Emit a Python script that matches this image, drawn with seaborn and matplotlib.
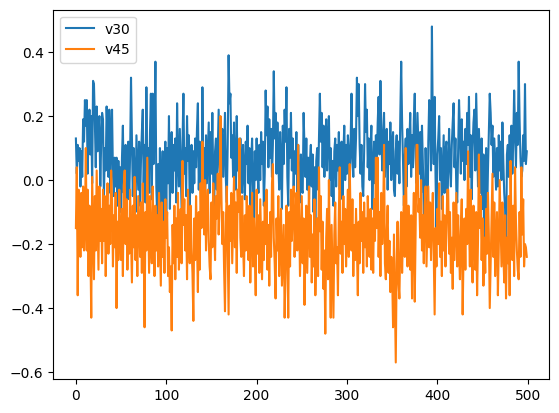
import matplotlib
matplotlib.use("Agg")
import matplotlib.pyplot as plt
import seaborn as sns
import pandas as pd

series_names = ["v30", "v45"]

v30 = [
    0.13, 0.02, 0.11, 0.06, 0.10, -0.02, 0.09, 0.01, 0.19, 0.12,
    0.25, 0.17, 0.25, 0.02, 0.14, 0.22, 0.08, 0.20, -0.01, 0.31,
    0.30, 0.18, 0.04, 0.23, 0.09, 0.16, 0.20, -0.02, 0.12, 0.21,
    0.19, -0.06, 0.10, 0.03, 0.23, 0.14, 0.01, 0.22, -0.04, 0.13,
    0.22, 0.02, -0.05, 0.07, -0.02, 0.07, -0.08, 0.06, -0.03, 0.04,
    -0.10, 0.07, 0.17, -0.04, 0.05, 0.11, -0.09, 0.04, 0.12, -0.06,
    0.08, 0.32, 0.13, -0.05, 0.10, 0.02, -0.10, 0.14, 0.05, -0.03,
    0.12, -0.08, 0.06, 0.15, 0.22, -0.02, 0.11, -0.07, 0.29, 0.03,
    0.10, -0.04, 0.15, 0.27, -0.06, 0.27, 0.05, 0.14, 0.37, -0.02,
    -0.12, 0.05, -0.17, 0.10, -0.20, -0.03, 0.09, -0.15, 0.04, 0.12,
    -0.10, 0.10, -0.01, 0.20, -0.09, 0.08, 0.15, -0.04, 0.11, 0.03,
    0.13, -0.07, 0.24, 0.06, -0.02, 0.16, 0.04, -0.09, 0.12, 0.27,
    0.02, 0.10, -0.05, 0.20, 0.06, 0.14, -0.08, 0.03, 0.11, -0.04,
    0.09, -0.01, 0.13, 0.04, 0.16, 0.24, -0.03, 0.12, 0.02, -0.11,
    0.29, 0.03, 0.10, -0.07, 0.14, -0.01, 0.08, 0.18, -0.04, 0.15,
    0.02, 0.21, 0.00, -0.09, 0.09, 0.13, -0.03, 0.10, 0.22, 0.04,
    -0.02, 0.12, 0.16, 0.01, 0.09, 0.21, 0.00, -0.07, 0.11, 0.39,
    0.24, 0.27, 0.07, 0.14, 0.01, 0.18, 0.05, -0.03, 0.20, 0.03,
    0.09, -0.08, 0.13, 0.02, -0.04, 0.11, 0.04, -0.06, 0.12, 0.05,
    0.17, -0.01, 0.10, -0.09, 0.06, 0.13, -0.02, -0.13, 0.09, 0.00,
    0.13, 0.03, -0.04, 0.11, 0.00, 0.15, 0.05, 0.12, -0.08, 0.02,
    0.28, 0.14, 0.23, 0.04, 0.19, 0.07, 0.16, 0.01, 0.11, 0.34,
    0.13, 0.21, 0.02, 0.18, 0.06, -0.03, 0.15, 0.07, -0.09, 0.17,
    0.05, 0.22, 0.12, 0.29, 0.01, -0.08, 0.16, 0.07, 0.21, 0.03,
    0.13, -0.02, 0.09, 0.02, 0.15, -0.05, 0.11, 0.00, -0.07, 0.08,
    -0.03, -0.04, 0.21, 0.10, 0.01, 0.13, -0.03, 0.07, -0.06, 0.06,
    0.11, -0.02, 0.08, -0.10, 0.04, -0.20, 0.06, 0.10, -0.03, 0.13,
    0.27, 0.12, 0.21, 0.04, 0.17, 0.01, 0.12, 0.19, 0.03, 0.14,
    0.20, 0.00, 0.10, -0.05, 0.06, -0.08, 0.09, 0.13, -0.02, 0.11,
    0.03, 0.15, -0.03, 0.09, 0.12, -0.06, 0.08, 0.17, 0.00, 0.11,
    0.02, 0.14, 0.09, -0.04, 0.12, 0.27, 0.07, 0.01, 0.16, 0.04,
    0.13, 0.32, 0.20, 0.30, 0.11, 0.02, 0.11, -0.02, -0.05, 0.09,
    0.30, 0.15, 0.22, 0.04, 0.13, 0.00, 0.10, 0.17, -0.09, 0.03,
    0.12, -0.01, 0.14, 0.05, 0.18, 0.26, 0.08, 0.31, 0.16, 0.03,
    0.13, 0.21, 0.01, 0.10, 0.16, -0.03, 0.12, 0.05, 0.18, 0.00,
    0.11, 0.15, -0.03, -0.05, 0.09, 0.14, 0.02, 0.12, -0.01, 0.20,
    0.37, 0.18, 0.06, -0.08, 0.07, 0.13, -0.02, 0.16, 0.05, 0.11,
    0.21, 0.01, 0.14, 0.04, 0.19, 0.27, 0.07, -0.01, 0.21, 0.12,
    0.02, 0.15, -0.04, 0.17, 0.05, -0.09, -0.19, 0.10, -0.02, -0.20,
    0.12, 0.25, 0.18, 0.03, 0.48, 0.15, 0.05, 0.26, 0.01, -0.16,
    0.08, 0.13, 0.20, 0.00, 0.10, -0.09, 0.03, 0.14, -0.04, 0.09,
    0.12, -0.07, 0.02, 0.16, 0.05, -0.02, 0.11, 0.18, 0.24, 0.04,
    0.13, -0.03, -0.07, 0.10, 0.25, 0.15, 0.02, 0.19, 0.06, 0.12,
    0.00, 0.16, 0.05, 0.21, 0.11, 0.26, 0.01, 0.14, -0.06, 0.10,
    0.18, 0.22, 0.03, 0.27, 0.12, -0.02, 0.16, 0.06, -0.04, 0.13,
    -0.09, 0.08, -0.28, 0.01, 0.10, -0.13, 0.03, 0.15, 0.27, 0.21,
    0.11, 0.17, 0.01, 0.13, 0.05, -0.03, 0.10, -0.02, 0.14, 0.03,
    0.12, 0.00, 0.18, 0.06, -0.04, -0.09, -0.28, 0.08, 0.11, 0.01,
    0.14, 0.05, 0.17, 0.02, 0.12, 0.28, 0.15, 0.04, 0.21, 0.11,
    0.37, 0.19, 0.07, 0.01, 0.03, 0.14, 0.06, 0.30, 0.05, 0.09,
]

v45 = [
    -0.15, 0.04, -0.36, -0.03, -0.12, -0.24, -0.04, -0.21, -0.02, -0.22,
    -0.14, 0.10, -0.22, -0.03, -0.30, -0.08, -0.20, -0.43, 0.01, -0.16,
    -0.31, -0.05, -0.22, 0.03, -0.13, -0.28, -0.02, -0.19, -0.09, -0.26,
    -0.03, -0.19, -0.05, -0.30, -0.12, -0.01, -0.23, -0.08, -0.20, 0.03,
    -0.06, -0.27, -0.11, -0.21, -0.04, -0.40, -0.13, -0.25, -0.03, -0.18,
    -0.25, -0.09, -0.30, -0.02, 0.03, -0.20, -0.06, -0.28, -0.12, -0.23,
    -0.03, -0.17, -0.32, -0.08, -0.21, 0.01, -0.25, -0.11, -0.30, -0.05,
    -0.14, -0.24, -0.07, -0.29, -0.01, -0.19, -0.46, -0.10, -0.22, 0.07,
    -0.12, -0.29, -0.05, -0.20, -0.26, -0.02, -0.17, -0.30, -0.08, -0.22,
    -0.11, -0.27, -0.04, -0.19, -0.33, -0.07, -0.24, -0.13, -0.29, -0.06,
    -0.18, -0.10, -0.30, -0.21, -0.35, -0.27, -0.47, -0.14, -0.26, -0.08,
    -0.31, -0.12, -0.24, -0.04, -0.28, -0.17, -0.09, -0.26, 0.06, -0.14,
    -0.06, -0.22, -0.11, -0.31, -0.03, -0.18, -0.26, -0.08, -0.21, -0.29,
    -0.44, -0.12, -0.25, -0.05, -0.19, -0.35, -0.10, -0.28, -0.01, -0.15,
    0.12, -0.06, -0.17, 0.00, -0.22, -0.09, -0.03, -0.19, -0.27, -0.31,
    -0.07, -0.21, -0.01, -0.14, -0.25, -0.05, -0.12, 0.02, -0.17, -0.06,
    0.20, -0.04, -0.20, -0.10, -0.28, -0.41, -0.13, -0.02, -0.23, -0.42,
    -0.08, -0.19, -0.04, -0.26, -0.12, 0.01, -0.21, -0.07, -0.29, -0.03,
    -0.10, 0.13, -0.18, -0.24, -0.05, -0.20, -0.30, -0.11, -0.22, -0.05,
    -0.13, -0.25, -0.08, -0.32, -0.16, -0.04, -0.27, -0.12, -0.21, -0.36,
    -0.03, -0.23, -0.11, -0.29, -0.06, -0.19, -0.31, -0.13, -0.25, -0.07,
    -0.20, -0.03, -0.28, -0.14, -0.33, -0.10, -0.24, -0.01, 0.05, -0.18,
    -0.26, -0.37, -0.12, -0.22, -0.05, -0.30, -0.17, -0.09, -0.33, -0.24,
    -0.14, -0.43, -0.28, -0.08, -0.21, -0.43, -0.10, -0.27, -0.03, -0.19,
    -0.07, -0.02, -0.24, -0.13, -0.04, -0.22, 0.11, -0.10, -0.30, -0.17,
    -0.05, -0.26, -0.12, -0.39, -0.20, -0.08, -0.29, -0.15, -0.02, -0.24,
    -0.11, -0.32, -0.17, -0.27, -0.06, -0.36, -0.22, -0.12, -0.30, 0.04,
    -0.16, -0.05, -0.28, -0.13, -0.34, -0.22, -0.48, -0.18, -0.09, -0.31,
    0.00, -0.24, -0.43, -0.14, -0.29, -0.43, -0.17, -0.07, -0.26, -0.21,
    -0.36, -0.10, 0.04, -0.23, -0.13, -0.29, -0.05, -0.20, -0.09, -0.27,
    -0.16, -0.03, -0.24, 0.05, -0.12, -0.22, -0.06, -0.30, -0.14, -0.25,
    -0.09, -0.21, -0.36, -0.13, -0.26, -0.04, -0.19, -0.10, -0.29, -0.07,
    -0.21, -0.12, -0.27, -0.05, -0.18, -0.24, -0.09, -0.28, -0.12, -0.29,
    -0.06, -0.19, 0.07, -0.15, 0.07, -0.24, -0.10, -0.30, -0.04, -0.20,
    -0.13, 0.11, -0.26, -0.31, -0.16, -0.08, -0.29, -0.19, -0.35, -0.24,
    -0.30, -0.46, -0.17, -0.37, -0.57, -0.26, -0.13, -0.32, -0.37, -0.20,
    -0.10, -0.29, -0.16, -0.05, -0.24, 0.10, -0.13, -0.27, -0.08, -0.21,
    -0.28, -0.11, -0.37, -0.18, -0.04, -0.38, -0.15, 0.11, 0.11, -0.10,
    -0.06, -0.18, 0.00, -0.22, -0.11, -0.26, -0.08, -0.02, -0.27, -0.14,
    -0.02, -0.21, -0.07, -0.25, -0.12, -0.04, -0.23, -0.42, -0.15, -0.27,
    -0.09, -0.20, -0.01, -0.24, -0.13, -0.30, -0.05, -0.22, -0.11, -0.27,
    -0.16, -0.03, -0.03, -0.23, -0.10, -0.29, -0.18, -0.34, -0.07, -0.25,
    -0.14, -0.04, -0.27, -0.11, -0.22, -0.31, -0.16, -0.06, -0.42, -0.23,
    -0.12, -0.28, -0.09, -0.20, 0.09, -0.13, -0.27, -0.03, -0.22, -0.32,
    -0.08, -0.20, -0.28, -0.10, -0.36, -0.19, 0.08, -0.15, -0.05, -0.25,
    -0.12, -0.33, -0.18, -0.29, -0.09, -0.23, -0.04, -0.17, -0.40, -0.26,
    -0.13, 0.02, -0.24, -0.07, -0.30, -0.16, -0.10, -0.36, -0.21, 0.00,
    -0.14, -0.27, -0.07, -0.22, -0.32, -0.11, -0.37, -0.18, -0.26, -0.05,
    -0.36, 0.06, -0.15, -0.25, -0.08, -0.30, 0.04, -0.13, -0.22, -0.28,
    -0.31, -0.10, -0.24, 0.04, -0.17, -0.06, -0.27, -0.20, -0.21, -0.24,
]

colors = ["#1f77b4", "#ff7f0e"]

df = pd.DataFrame({series_names[0]: v30, series_names[1]: v45})

fig, ax = plt.subplots(figsize=(6.4, 4.8), dpi=100)
sns.lineplot(data=df, ax=ax, palette=colors, dashes=False, linewidth=1.5)
ax.legend(loc="upper left")
ax.set_xlabel("")
ax.set_ylabel("")
fig.savefig("out.png", dpi=100, bbox_inches="tight")
